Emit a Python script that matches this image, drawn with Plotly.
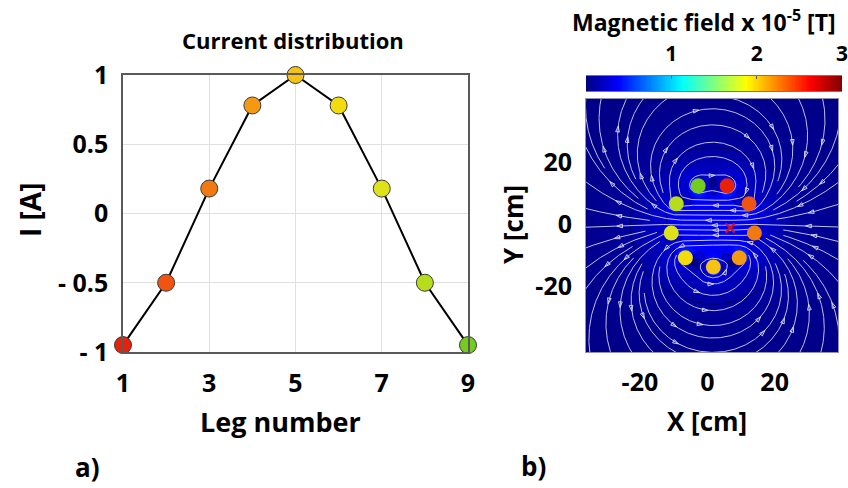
import math
import numpy as np
import plotly.graph_objects as go

# ---------------- data ----------------
leg_number = [1, 2, 3, 4, 5, 6, 7, 8, 9]
leg_current = [-0.95, -0.5, 0.18, 0.78, 1.0, 0.78, 0.18, -0.5, -0.95]
leg_colors = ["#e8210d", "#ef5412", "#f07a10", "#f39a12", "#f6c214",
              "#f3dc0c", "#dde318", "#b6dc1c", "#74cc1e"]
# wire (leg) positions in the field map [cm]
wire_x = [5.9, 12.4, 14.0, 9.5, 1.8, -6.5, -10.7, -9.2, -2.7]
wire_y = [12.3, 6.5, -2.9, -10.9, -13.9, -10.9, -2.9, 6.5, 12.3]
probe_x = [6.8]
probe_y = [-1.3]

x_tick_vals = [1, 3, 5, 7, 9]
y_tick_vals = [-1, -0.5, 0, 0.5, 1]
y_tick_text = ["- 1", "- 0.5", "0", "0.5", "1"]
field_tick_vals = [1, 2, 3]
xy_tick_vals = [-20, 0, 20]
xy_tick_text = ["-20", "0", "20"]

X_RANGE = [-36.0, 38.8]
Y_RANGE = [-41.3, 40.3]
FIELD_MAX = 3.0
K_FIELD = 1.0   # field constant so that B [1e-5 T] = K * I / r[cm]

FONT = "Open Sans"
W, H = 848, 488

WX = np.array(wire_x)
WY = np.array(wire_y)
WI = np.array(leg_current)

MATLAB_JET = [[0.0, "#000080"], [0.125, "#0000ff"], [0.375, "#00ffff"],
              [0.625, "#ffff00"], [0.875, "#ff0000"], [1.0, "#800000"]]


def field(px, py, rmin=0.0):
    dx = px[..., None] - WX
    dy = py[..., None] - WY
    r2 = np.maximum(dx * dx + dy * dy, rmin ** 2)
    bx = K_FIELD * np.sum(-WI * dy / r2, axis=-1)
    by = K_FIELD * np.sum(WI * dx / r2, axis=-1)
    return bx, by


def bpoint(x, y):
    bx = by = 0.0
    for xi, yi, ci in zip(wire_x, wire_y, leg_current):
        dx = x - xi
        dy = y - yi
        r2 = dx * dx + dy * dy
        bx -= ci * dy / r2
        by += ci * dx / r2
    return bx, by


# ---------------- field magnitude map ----------------
xs = np.linspace(X_RANGE[0], X_RANGE[1], 260)
ys = np.linspace(Y_RANGE[0], Y_RANGE[1], 260)
GX, GY = np.meshgrid(xs, ys)
BX, BY = field(GX, GY, rmin=1.5)
MAG = np.clip(np.hypot(BX, BY), 0, FIELD_MAX)

# ---------------- evenly spaced field lines ----------------
CS = 3.2
grid = {}


def add_pts(pts, lid):
    for (x, y) in pts:
        grid.setdefault((math.floor(x / CS), math.floor(y / CS)), []).append((x, y, lid))


def too_close(x, y, d, lid):
    cx, cy = math.floor(x / CS), math.floor(y / CS)
    d2 = d * d
    for i in (-1, 0, 1):
        for j in (-1, 0, 1):
            for (px, py, l) in grid.get((cx + i, cy + j), ()):
                if l != lid and (px - x) ** 2 + (py - y) ** 2 < d2:
                    return True
    return False


def direction(x, y, sign):
    bx, by = bpoint(x, y)
    n = math.hypot(bx, by) + 1e-12
    return sign * bx / n, sign * by / n


def trace(x0, y0, sign, lid, dtest, h=0.3, nmax=1600):
    pts = []
    x, y = x0, y0
    closed = False
    for k in range(nmax):
        k1 = direction(x, y, sign)
        k2 = direction(x + 0.5 * h * k1[0], y + 0.5 * h * k1[1], sign)
        nx, ny = x + h * k2[0], y + h * k2[1]
        if nx < X_RANGE[0] - 0.5 or nx > X_RANGE[1] + 0.5 or ny < Y_RANGE[0] - 0.5 or ny > Y_RANGE[1] + 0.5:
            pts.append((nx, ny))
            break
        if min(math.hypot(nx - a, ny - b) for a, b in zip(wire_x, wire_y)) < 1.3:
            break
        if k > 30 and math.hypot(nx - x0, ny - y0) < h * 1.2:
            pts.append((x0, y0))
            closed = True
            break
        if too_close(nx, ny, dtest, lid):
            break
        pts.append((nx, ny))
        x, y = nx, ny
    return pts, closed


lines = []
xc = float(np.mean(WX))
yc = float(np.mean(WY))
interior_seeds = [(xc, yc + v) for v in np.arange(-6.4, 6.5, 1.6)]
outer_seeds = [(sx, sy) for sy in np.arange(Y_RANGE[0] + 1, Y_RANGE[1], 3.0)
               for sx in np.arange(X_RANGE[0] + 1, X_RANGE[1], 3.0)]

lid = 0
for batch, dsep, dtest in ((interior_seeds, 0.0, 0.6), (outer_seeds, 3.2, 1.5)):
    for (sx, sy) in batch:
        if dsep > 0 and too_close(sx, sy, dsep, -1):
            continue
        if min(math.hypot(sx - a, sy - b) for a, b in zip(wire_x, wire_y)) < 3:
            continue
        fwd, closed = trace(sx, sy, +1, lid, dtest)
        if closed:
            pts = [(sx, sy)] + fwd
        else:
            bwd, _ = trace(sx, sy, -1, lid, dtest)
            pts = bwd[::-1] + [(sx, sy)] + fwd
        if len(pts) < 12:
            continue
        add_pts(pts, lid)
        lines.append(pts)
        lid += 1

sxp = (838 - 586) / (X_RANGE[1] - X_RANGE[0])
syp = (352 - 99) / (Y_RANGE[1] - Y_RANGE[0])
line_x, line_y, arr_x, arr_y, arr_ang = [], [], [], [], []
for n, pts in enumerate(lines):
    lx = np.array([p[0] for p in pts])
    ly = np.array([p[1] for p in pts])
    line_x += list(lx) + [None]
    line_y += list(ly) + [None]
    s = np.concatenate([[0], np.cumsum(np.hypot(np.diff(lx), np.diff(ly)))])
    if s[-1] < 35:
        targets = [s[-1] / 2]
    else:
        targets = np.arange(10 + (n % 4) * 5, s[-1] - 5, 28)
    for t in targets:
        j = int(np.searchsorted(s, t))
        if j >= len(lx):
            continue
        px, py = lx[j], ly[j]
        if not (X_RANGE[0] + 1.5 < px < X_RANGE[1] - 1.5 and Y_RANGE[0] + 1.5 < py < Y_RANGE[1] - 1.5):
            continue
        bx, by = bpoint(px, py)
        arr_x.append(px)
        arr_y.append(py)
        arr_ang.append(math.degrees(math.atan2(bx * sxp, by * syp)))

# ---------------- figure ----------------
fig = go.Figure()

# panel a
fig.add_trace(go.Scatter(
    x=leg_number, y=leg_current, mode="lines+markers",
    line=dict(color="black", width=2),
    marker=dict(size=17, color=leg_colors, line=dict(color="#3a3a3a", width=1)),
    cliponaxis=False, xaxis="x", yaxis="y"))

# panel b : field magnitude
fig.add_trace(go.Contour(
    x=xs, y=ys, z=MAG, zmin=0, zmax=FIELD_MAX, colorscale=MATLAB_JET, showscale=False,
    contours=dict(coloring="heatmap", start=0.1, end=3, size=0.2),
    line=dict(color="rgba(0,0,0,0.75)", width=0.6),
    xaxis="x2", yaxis="y2", hoverinfo="skip"))

fig.add_trace(go.Scatter(
    x=line_x, y=line_y, mode="lines",
    line=dict(color="rgba(225,225,240,0.85)", width=1),
    xaxis="x2", yaxis="y2", hoverinfo="skip"))
fig.add_trace(go.Scatter(
    x=arr_x, y=arr_y, mode="markers",
    marker=dict(symbol="arrow-open", size=6, angle=arr_ang,
                color="rgba(225,225,240,0.9)", line=dict(color="rgba(225,225,240,0.9)", width=1)),
    xaxis="x2", yaxis="y2", hoverinfo="skip"))
fig.add_trace(go.Scatter(
    x=wire_x, y=wire_y, mode="markers",
    marker=dict(size=15, color=leg_colors, line=dict(width=0)),
    xaxis="x2", yaxis="y2"))
fig.add_trace(go.Scatter(
    x=probe_x, y=probe_y, mode="markers",
    marker=dict(symbol="x-thin", size=9, line=dict(color="#e01010", width=2.2)),
    xaxis="x2", yaxis="y2"))

# colour bar drawn as a thin heatmap strip
cb_vals = np.linspace(0, FIELD_MAX, 300)
fig.add_trace(go.Heatmap(
    x=cb_vals, y=[0], z=[cb_vals], zmin=0, zmax=FIELD_MAX, colorscale=MATLAB_JET,
    showscale=False, xaxis="x3", yaxis="y3", hoverinfo="skip"))

tickfont = dict(family=FONT, size=25, color="black", weight="bold")
fig.update_layout(
    width=W, height=H, margin=dict(l=0, r=0, t=0, b=0, autoexpand=False),
    paper_bgcolor="white", plot_bgcolor="white", showlegend=False,
    xaxis=dict(domain=[123 / W, 468 / W], range=[1, 9], tickvals=x_tick_vals,
               showgrid=True, gridcolor="#e0e0e0", gridwidth=1, zeroline=False,
               showline=True, linecolor="#5a5a5a", linewidth=1.5, mirror=True,
               ticks="", tickfont=tickfont, ticklabelstandoff=8, anchor="y", automargin=False),
    yaxis=dict(domain=[1 - 352 / H, 1 - 75 / H], range=[-1, 1], tickvals=y_tick_vals,
               ticktext=y_tick_text, showgrid=True, gridcolor="#e0e0e0", gridwidth=1,
               zeroline=False, showline=True, linecolor="#5a5a5a", linewidth=1.5, mirror=True,
               ticks="", tickfont=tickfont, ticklabelstandoff=8, anchor="x", automargin=False),
    xaxis2=dict(domain=[586 / W, 838 / W], range=X_RANGE, tickvals=xy_tick_vals,
                ticktext=xy_tick_text, showgrid=False, zeroline=False,
                showline=True, linecolor="#9090b0", linewidth=1, mirror=True, ticks="",
                tickfont=tickfont, ticklabelstandoff=8, anchor="y2", automargin=False),
    yaxis2=dict(domain=[1 - 352 / H, 1 - 99 / H], range=Y_RANGE, tickvals=xy_tick_vals,
                ticktext=xy_tick_text, showgrid=False, zeroline=False,
                showline=True, linecolor="#9090b0", linewidth=1, mirror=True, ticks="",
                tickfont=tickfont, ticklabelstandoff=8, anchor="x2", automargin=False),
    xaxis3=dict(domain=[586 / W, 842 / W], range=[0, FIELD_MAX], tickvals=field_tick_vals,
                side="top", showgrid=False, zeroline=False, showline=True, linecolor="#777",
                linewidth=1, mirror=True, ticks="inside", ticklen=3, tickcolor="#555",
                tickfont=dict(family=FONT, size=21, color="black", weight="bold"),
                ticklabelstandoff=6, ticklabeloverflow="allow", anchor="y3", automargin=False),
    yaxis3=dict(domain=[1 - 91 / H, 1 - 76 / H], range=[-0.5, 0.5], showticklabels=False,
                showgrid=False, zeroline=False, showline=False, ticks="", anchor="x3",
                automargin=False),
)


def ann(text, x, y, size, angle=0):
    fig.add_annotation(text=text, x=x / W, y=1 - y / H, xref="paper", yref="paper",
                       showarrow=False, xanchor="center", yanchor="middle", textangle=angle,
                       font=dict(family=FONT, size=size, color="black", weight="bold"))


ann("Current distribution", 293, 40, 22)
ann("Leg number", 280, 421, 27)
ann("I [A]", 30, 210, 28, -90)
ann("Magnetic field x 10<sup>-5</sup> [T]", 704, 21, 23)
ann("Y [cm]", 513, 225, 26, -90)
ann("X [cm]", 707, 421, 26)
ann("a)", 87, 467, 26)
ann("b)", 533, 466, 26)

fig.write_html("out.html")
